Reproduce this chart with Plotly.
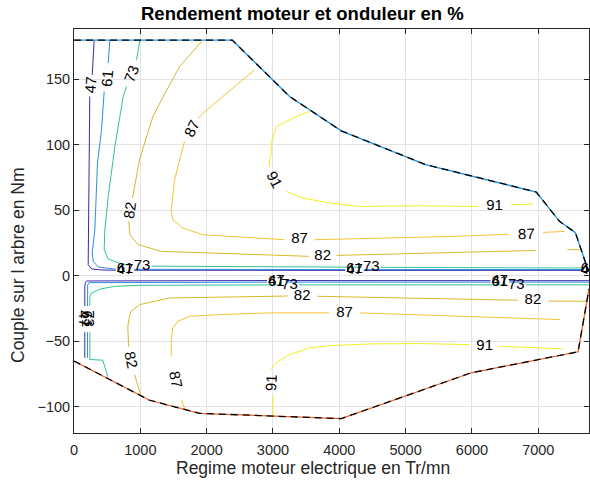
import plotly.graph_objects as go

# ---------------------------------------------------------------------------
# Operating envelope (speed in Tr/mn, torque in Nm)
# ---------------------------------------------------------------------------
env_top_speed = [0, 2386, 3250, 4030, 5300, 6970, 7320, 7560, 7740, 7765]
env_top_torque = [180, 180, 137, 110.7, 85, 64, 41.6, 33, 6, 4]
env_bot_speed = [0, 1140, 1895, 4030, 5990, 7600, 7765]
env_bot_torque = [-65, -95, -105, -109, -74, -58, -10]

# ---------------------------------------------------------------------------
# Iso-efficiency lines (None = break where the level label sits)
# ---------------------------------------------------------------------------
levels = [47, 61, 73, 82, 87, 91]
level_colors = ["#3e26a8", "#2d8ce8", "#33c09c", "#d6b92c", "#f8c134", "#f2ee22"]

speed_47 = [304, 274.5, None, 238, 223, 204, 214, 264, 400, 630, None, 910, 4090, None,
            4370, 7660, None,
            7765, 6560, None, 6280, 3190, None, 2910, 300, 190, 173, 163, 163, None, 163, 163]
torque_47 = [180, 153.4, None, 136.9, 60.6, 14.9, 8.5, 5.3, 4.5, 4.3, None, 4.3, 4.2, None,
             4.2, 4.2, None,
             -3.7, -3.7, None, -3.7, -3.6, None, -3.6, -3.7, -3.9, -5, -8, -23, None, -43, -62.6]

speed_61 = [540, 516, None, 455, 415, 354, 314, 274, 290, 365, 566, 630, None, 910, 4090, None,
            4370, 7660, None,
            7765, 6560, None, 6280, 3190, None, 2910, 330, 225, 206, 204, 204, None, 204, 204]
torque_61 = [180, 162.4, None, 140.7, 111.5, 86.1, 35.2, 17.5, 11, 6.8, 5.2, 5, None, 5, 4.8, None,
             4.8, 4.8, None,
             -4.8, -4.8, None, -4.8, -4.8, None, -4.8, -4.8, -5.2, -7, -12, -23, None, -43, -62.6]

speed_73 = [993, 943, None, 792, 742, 616, 516, 465, 455, 516, 716, 880, None, 1170, 2000, 4340,
            None, 4620, 7000, 7700, None,
            7765, 6810, None, 6530, 3390, None, 3110, 1000, 616, 400, 264, 239, 239, None,
            239, 239, 434, 510]
torque_73 = [180, 164.9, None, 144.5, 136.9, 98.8, 60.6, 35.2, 20, 12.9, 9.1, 8.3, None, 7.4, 7.1, 6.6,
             None, 6.5, 6.0, 6.0, None,
             -6.9, -6.9, None, -6.9, -6.9, None, -6.9, -7.2, -8, -10, -13.2, -16, -23, None,
             -43, -63.9, -64.4, -77]

speed_82 = [1943, 1591, 1320, 1189, 988, 893, 882, None, 827, 842, 968, 1320, 2044, 3540, None,
            3960, 6960, None, 7440, 7640, None,
            7735, 7150, None, 6690, 3670, None, 3220, 1440, 988, 862, 837, 812, 822, None, 912, 1013]
torque_82 = [180, 159.8, 134.4, 121.6, 88.6, 63.2, 59.4, None, 41.6, 31.4, 23.8, 18.7, 17.5, 14.9, None,
             15.6, 19.4, None, 20, 20, None,
             -19.4, -19.3, None, -18.6, -15.6, None, -15.4, -16.9, -22, -27, -30.9, -38.5, -53.8, None,
             -75.4, -91.9]

speed_87 = [2722, 1943, 1870, None, 1667, 1591, 1516, 1466, 1490, 1641, 1943, 3170, None,
            3630, 5713, 6550, None, 7071, 7398, None,
            7700, 7665, None, 7330, 4310, None, 3850, 2949, 2195, 1742, 1566, 1490, 1466, 1466, None,
            1617, 1675]
torque_87 = [157.2, 124.2, 120, None, 102.6, 88.6, 73.4, 50.5, 42.9, 36.5, 31.4, 27.6, None,
             27.6, 30.1, 31.8, None, 33.2, 33.9, None,
             -32.5, -33, None, -33.4, -28.3, None, -28.3, -28.3, -29.6, -30.9, -34.7, -39.8, -48.7, -61.4, None,
             -94.4, -102]

speed_91 = [3552, 3351, 3050, 2974, 2974, 2949, 2949, None, 3200, 3451, 3854, 4306, 5211, 6100, None,
            6590, 6920, None,
            2998, 2999, None, 2974, 3050, 3250, 3552, 3854, 4457, 5211, 5965, None, 6430, 7372]
torque_91 = [125.5, 121.6, 114, 101.4, 93.7, 88.6, 83.5, None, 64.4, 59.4, 55.6, 53, 53.5, 53, None,
             54.3, 54.8, None,
             -106.8, -91.9, None, -71.5, -66.4, -60.1, -55, -53.3, -52, -51.7, -52.5, None, -53.8, -55.8]

line_speeds = [speed_47, speed_61, speed_73, speed_82, speed_87, speed_91]
line_torques = [torque_47, torque_61, torque_73, torque_82, torque_87, torque_91]

# Level labels set along the lines: level, speed, torque, text angle
label_level = [47, 61, 73, 82, 87, 91,
               47, 61, 73, 82, 87, 91,
               82, 87, 91, 87,
               82, 87, 91, 82,
               47, 61, 73, 47, 61, 73,
               47, 61, 73, 47, 61, 73,
               47, 61]
label_speed = [250, 491, 867, 842, 1768, 3024,
               163, 204, 239, 862, 1541, 2974,
               3750, 3401, 6342, 6820,
               3440, 4080, 6192, 6920,
               770, 770, 1025, 4230, 4230, 4483,
               3050, 3050, 3250, 6420, 6420, 6670,
               7765, 7765]
label_torque = [146, 151, 154.5, 50.5, 112.8, 73.4,
                -33, -33, -33, -64, -79, -81.7,
                14.8, 27.6, 53, 32.2,
                -15.4, -28.3, -53.5, -18.9,
                4.4, 4.8, 7.6, 4.4, 4.8, 6.6,
                -3.8, -4.8, -6.9, -3.8, -4.8, -6.9,
                4.4, 4.8]
label_angle = [-86, -85, -69, -82, -64, 62,
               90, 90, 90, 78, 79, -88,
               0, 0, 0, -1,
               0, 0, 0, 0,
               0, 0, 0, 0, 0, 0,
               0, 0, 0, 0, 0, 0,
               0, 0]

x_ticks = [0, 1000, 2000, 3000, 4000, 5000, 6000, 7000]
y_ticks = [-100, -50, 0, 50, 100, 150]

title_text = "Rendement moteur et onduleur en %"
x_title = "Regime moteur electrique en Tr/mn"
y_title = "Couple sur l arbre en Nm"

FONT = "Liberation Sans, Arial, Helvetica, sans-serif"
INK = "#262626"
LABEL_SIZE = 15

fig = go.Figure()

for lvl, col, xs, ys in zip(levels, level_colors, line_speeds, line_torques):
    fig.add_trace(go.Scatter(x=xs, y=ys, mode="lines", connectgaps=False,
                             line=dict(color=col, width=1), hoverinfo="skip",
                             name=str(lvl), showlegend=False))

# envelope: coloured solid line under a black dashed line
fig.add_trace(go.Scatter(x=env_top_speed, y=env_top_torque, mode="lines",
                         line=dict(color="#1f8fe0", width=1.3), showlegend=False))
fig.add_trace(go.Scatter(x=env_top_speed, y=env_top_torque, mode="lines",
                         line=dict(color="black", width=1.3, dash="7px,5px"), showlegend=False))
fig.add_trace(go.Scatter(x=env_bot_speed, y=env_bot_torque, mode="lines",
                         line=dict(color="#e8642a", width=1.3), showlegend=False))
fig.add_trace(go.Scatter(x=env_bot_speed, y=env_bot_torque, mode="lines",
                         line=dict(color="black", width=1.3, dash="7px,5px"), showlegend=False))

# horizontal labels as clipped text, rotated ones as annotations
hx, hy, ht = [], [], []
for lv, sx, ty, ang in zip(label_level, label_speed, label_torque, label_angle):
    if ang == 0:
        hx.append(sx)
        hy.append(ty)
        ht.append(str(lv))
    else:
        fig.add_annotation(x=sx, y=ty, text=str(lv), textangle=ang, showarrow=False,
                           xanchor="center", yanchor="middle",
                           font=dict(family=FONT, size=LABEL_SIZE, color="black"))
fig.add_trace(go.Scatter(x=hx, y=hy, text=ht, mode="text", cliponaxis=True,
                         textposition="middle center",
                         textfont=dict(family=FONT, size=LABEL_SIZE, color="black"),
                         showlegend=False, hoverinfo="skip"))

axis_common = dict(showline=True, linecolor=INK, linewidth=1, mirror="ticks",
                   ticks="inside", ticklen=5, tickwidth=1, tickcolor=INK,
                   showgrid=True, gridcolor="#e3e3e3", gridwidth=1, zeroline=False,
                   tickfont=dict(family=FONT, size=14.5, color=INK))

fig.update_xaxes(range=[0, 7765], tickvals=x_ticks, ticklabelstandoff=4, **axis_common)
fig.update_yaxes(range=[-120, 188.5], tickvals=y_ticks, **axis_common)

fig.add_annotation(text="<b>" + title_text + "</b>", xref="paper", yref="paper",
                   x=(302 - 74) / 515, y=1 + 15 / 404, showarrow=False,
                   xanchor="center", yanchor="middle",
                   font=dict(family=FONT, size=18.5, color="black"))
fig.add_annotation(text=x_title, xref="paper", yref="paper",
                   x=(313 - 74) / 515, y=-(468 - 433) / 404, showarrow=False,
                   xanchor="center", yanchor="middle",
                   font=dict(family=FONT, size=17.5, color=INK))
fig.add_annotation(text=y_title, xref="paper", yref="paper",
                   x=-(74 - 18) / 515, y=(433 - 265) / 404, showarrow=False, textangle=-90,
                   xanchor="center", yanchor="middle",
                   font=dict(family=FONT, size=17.5, color=INK))

fig.update_layout(width=590, height=481, margin=dict(l=74, r=1, t=29, b=48),
                  paper_bgcolor="white", plot_bgcolor="white", showlegend=False)

fig.write_html("out.html")
